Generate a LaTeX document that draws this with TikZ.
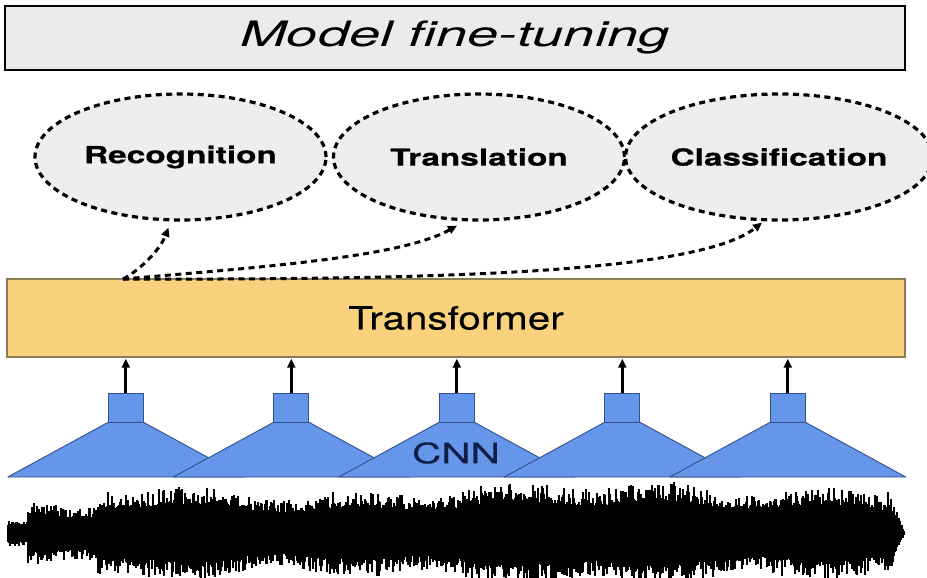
\documentclass[tikz,border=0pt]{standalone}
\usepackage{fontspec}
\usepackage{tikz}
\usetikzlibrary{positioning,calc,arrows.meta,shapes.geometric}
\newfontfamily\titlefont[FakeStretch=1.6]{TeX Gyre Heros}
\newfontfamily\taskfont[FakeStretch=1.42,FakeBold=0.6]{TeX Gyre Heros}
\newfontfamily\tffont[FakeStretch=1.26,FakeBold=0.4]{TeX Gyre Heros}
\newfontfamily\cnnfont[FakeStretch=1.45,FakeBold=0.4]{TeX Gyre Heros}
\definecolor{boxgray}{HTML}{EBEBEB}
\definecolor{taskgray}{HTML}{EEEEEE}
\definecolor{tfyellow}{HTML}{FAD27D}
\definecolor{tfedge}{HTML}{8C7B55}
\definecolor{cnnblue}{HTML}{6596EA}
\definecolor{cnnedge}{HTML}{32508A}
\definecolor{cnntext}{HTML}{0F1F48}
\tikzset{
  titlebox/.style={draw, line width=2.8pt, fill=boxgray, minimum width=900pt, minimum height=64pt, inner sep=0pt, font=\titlefont\itshape\fontsize{35}{40}\selectfont},
  taskellipse/.style={ellipse, draw, dash pattern=on 6pt off 4.5pt, line width=3.2pt, fill=taskgray, minimum width=291pt, minimum height=126pt, inner sep=0pt, font=\taskfont\bfseries\fontsize{23.5}{28}\selectfont},
  tfbox/.style={draw=tfedge, line width=1.4pt, fill=tfyellow, minimum width=898pt, minimum height=78pt, inner sep=0pt, font=\tffont\fontsize{32}{36}\selectfont},
  cnnsquare/.style={draw=cnnedge, line width=0.9pt, fill=cnnblue, minimum width=35pt, minimum height=29pt, inner sep=0pt},
  cnncone/.style={draw=cnnedge, line width=0.9pt, fill=cnnblue, line join=round},
  featarrow/.style={-{Triangle[length=9pt,width=8pt]}, line width=2.8pt},
  taskarrow/.style={-{Triangle[length=9pt,width=8pt]}, line width=3pt, dash pattern=on 6pt off 4.5pt},
  wavestroke/.style={line width=1.5pt, black},
}

\begin{document}
\begin{tikzpicture}[x=1pt, y=-1pt]
  \useasboundingbox (0,0) rectangle (927,578);

  % Title bar
  \node[titlebox] (title) at (455,38) {Model fine-tuning};

  % Downstream tasks
  \node[taskellipse] (rec) at (180.5,157) {Recognition};
  \node[taskellipse] (tra) at (479,157) {Translation};
  \node[taskellipse] (cls) at (779,157) {Classification};

  % Transformer block
  \node[tfbox] (tf) at (456,318) {Transformer};

  % Fine-tuning arrows
  \coordinate (fork) at (123,279);
  \coordinate (recin) at ($(rec.south)+(-12,6)$);
  \coordinate (train) at ($(tra.south)+(-22,4)$);
  \coordinate (clsin) at ($(cls.south)+(-17,1)$);
  \draw[taskarrow] (fork) .. controls (140,270) and (160,250) .. (recin);
  \draw[taskarrow] (fork) .. controls (250,268) and (400,258) .. (train);
  \draw[taskarrow] (fork) .. controls (450,280) and (700,272) .. (clsin);

  % CNN encoders
  \foreach \i/\cx in {1/125.8, 2/291.3, 3/456.8, 4/622.3, 5/787.8} {
    \node[cnnsquare] (sq\i) at (\cx,407.5) {};
    \draw[cnncone] (sq\i.south west) -- (\cx-118,477) -- (\cx+118,477) -- (sq\i.south east) -- cycle;
    \draw[featarrow, shorten >=1pt] (sq\i.north) -- (sq\i.north |- tf.south);
  }
  \node[font=\cnnfont\fontsize{28}{32}\selectfont, text=cnntext] (cnnlabel) at (456,453) {CNN};

  % Raw waveform
  \pgfmathsetseed{23}
  \foreach \wx in {8,9,...,904} {
    \ifnum\wx<28 \def\env{13}\else
    \ifnum\wx<58 \def\env{30}\else
    \ifnum\wx<98 \def\env{26}\else
    \ifnum\wx<888 \pgfmathsetmacro\env{41+5*sin(\wx*2.3)+5*sin(\wx*0.7+40)+5*(\wx-98)/790}\else
    \pgfmathsetmacro\env{46*(905-\wx)/17}\fi\fi\fi\fi
    \pgfmathsetmacro\up{\env*(0.62+0.38*pow(rnd,2))}
    \pgfmathsetmacro\dn{\env*(0.62+0.42*pow(rnd,2))}
    \draw[wavestroke] (\wx,533-\up) -- (\wx,533+\dn);
  }
\end{tikzpicture}
\end{document}
